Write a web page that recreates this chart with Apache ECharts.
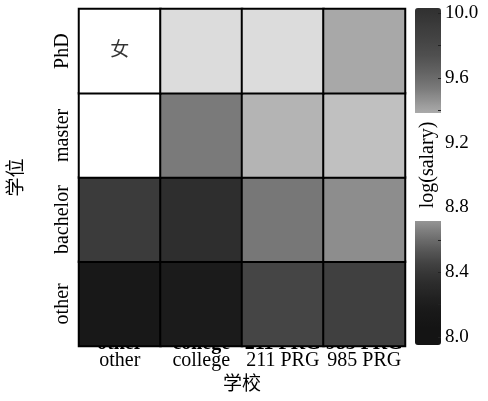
<!DOCTYPE html>
<html><head><meta charset="utf-8">
<script src="https://cdn.jsdelivr.net/npm/echarts@6/dist/echarts.min.js"></script>
<style>html,body{margin:0;padding:0;background:#fff}#c{width:488px;height:401px}</style>
</head><body><div id="c"></div>
<script>
const schools = ['other', 'college', '211 PRG', '985 PRG'];
const degrees = ['other', 'bachelor', 'master', 'PhD'];
// log(salary), one row per degree, columns follow schools
const rowOther    = [8.15, 8.18, 8.47, 8.45];
const rowBachelor = [8.42, 8.35, 8.64, 8.70];
const rowMaster   = [9.05, 8.65, 8.80, 8.83];
const rowPhD      = [9.05, 8.90, 8.90, 8.77];
const panelLabel = '女';
const cbTicks = [8.0, 8.4, 8.8, 9.2, 9.6, 10.0];

const rows = [rowOther, rowBachelor, rowMaster, rowPhD];
const data = [];
rows.forEach((r, yi) => r.forEach((v, xi) => data.push([xi, yi, v])));

const FONT = '"Liberation Serif", "Times New Roman", "Noto Sans CJK SC", serif';
const chart = echarts.init(document.getElementById('c'), null, {renderer: 'canvas'});
chart.setOption({
  backgroundColor: '#fff',
  animation: false,
  textStyle: {fontFamily: FONT},
  grid: [
    {left: 79, top: 9, width: 326, height: 337, show: true, borderColor: '#000', borderWidth: 2, backgroundColor: 'transparent', outerBoundsMode: 'none', containLabel: false},
    {left: 415, top: 13, width: 26, height: 324, outerBoundsMode: 'none', containLabel: false},
    {left: 438, top: 13, width: 3, height: 324, outerBoundsMode: 'none', containLabel: false}
  ],
  xAxis: [
    {type: 'category', gridIndex: 0, data: schools, position: 'bottom',
     axisLine: {show: false}, axisTick: {show: false}, splitLine: {show: false},
     axisLabel: {fontFamily: FONT, fontSize: 20, color: '#000', margin: 5, interval: 0},
     name: '学校', nameLocation: 'middle', nameGap: 30,
     nameTextStyle: {fontFamily: FONT, fontSize: 19, color: '#000'}},
    {type: 'category', gridIndex: 0, data: schools, position: 'bottom',
     axisLine: {show: false}, axisTick: {show: false}, splitLine: {show: false},
     axisLabel: {fontFamily: FONT, fontSize: 20, color: '#000', margin: -12, interval: 0, fontWeight: 'bold'}},
    {type: 'value', gridIndex: 1, show: false, min: 0, max: 1},
    {type: 'value', gridIndex: 2, show: false, min: 0, max: 1}
  ],
  yAxis: [
    {type: 'category', gridIndex: 0, data: degrees,
     axisLine: {show: false}, axisTick: {show: false}, splitLine: {show: false},
     axisLabel: {fontFamily: FONT, fontSize: 20, color: '#000', rotate: 90, margin: 6, interval: 0},
     name: '学位', nameLocation: 'middle', nameGap: 52, nameRotate: 90,
     nameTextStyle: {fontFamily: FONT, fontSize: 19, color: '#000'}},
    {type: 'value', gridIndex: 1, min: 8, max: 10, interval: 0.2, position: 'right', z: 10,
     axisLine: {show: false}, splitLine: {show: false}, axisTick: {show: false},
     axisLabel: {fontFamily: FONT, fontSize: 19, color: '#000', margin: 4,
       formatter: v => { const r = Math.round(v * 10) / 10; return cbTicks.some(t => Math.abs(t - r) < 1e-6) ? r.toFixed(1) : ''; }}},
    {type: 'value', gridIndex: 2, min: 8, max: 10, interval: 0.2, position: 'left', z: 10,
     axisLine: {show: false}, splitLine: {show: false},
     axisTick: {show: true, inside: true, length: 3, lineStyle: {color: '#222', width: 1}},
     axisLabel: {show: false}}
  ],
  visualMap: {
    type: 'continuous', seriesIndex: 0, dimension: 2, z: 1,
    min: 7.95, max: 10.05, calculable: false, show: true,
    orient: 'vertical', left: 415, top: 8, itemWidth: 26, itemHeight: 337,
    padding: 0, borderWidth: 0, text: null,
    inRange: {color: ['#141414', '#141414', '#181818', '#222222', '#2e2e2e', '#404040', '#5a5a5a', '#7a7a7a', '#a0a0a0', '#c8c8c8', '#f0f0f0',
                      '#ffffff', '#f0f0f0', '#d8d8d8', '#b8b8b8', '#9a9a9a', '#7a7a7a', '#636363', '#505050', '#444444', '#3a3a3a', '#303030']}
  },
  series: [
    {type: 'heatmap', xAxisIndex: 0, yAxisIndex: 0, data: data, zlevel: 1,
     itemStyle: {borderColor: '#000', borderWidth: 2}, emphasis: {disabled: true}},
    {type: 'scatter', xAxisIndex: 0, yAxisIndex: 0, symbolSize: 0, z: 5, zlevel: 1,
     data: [[schools[0], degrees[3]]],
     label: {show: true, position: 'inside', formatter: panelLabel, fontFamily: FONT, fontSize: 19, color: '#000'}}
  ],
  graphic: [
    {type: 'rect', left: 415, top: 113, z: 100, shape: {width: 26, height: 108}, style: {fill: '#fff'}},
    {type: 'text', x: 428, y: 165, rotation: Math.PI / 2, z: 101,
     style: {text: 'log(salary)', font: '20px "Liberation Serif", serif', fill: '#000', align: 'center', verticalAlign: 'middle'}}
  ]
});
</script></body></html>
